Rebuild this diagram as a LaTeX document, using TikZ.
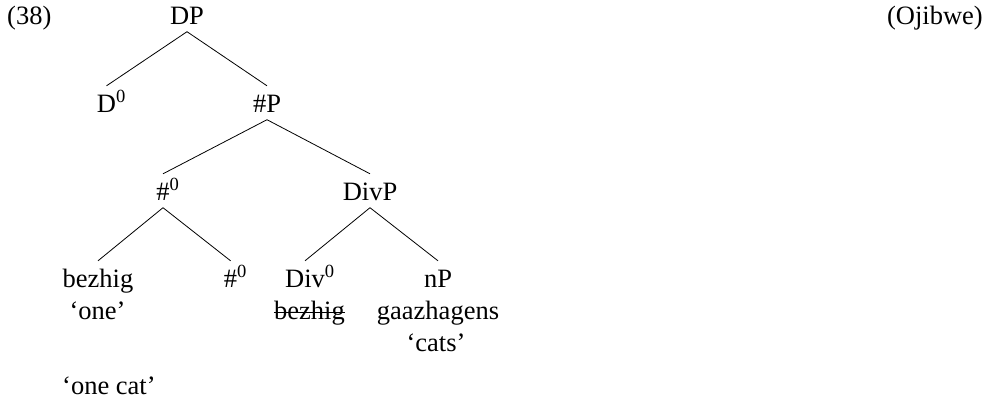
\documentclass[tikz,border=0pt]{standalone}
\usepackage{fontspec}
\setmainfont{Liberation Serif}
\tikzset{
  lbl/.style={font=\fontsize{26.5}{32}\selectfont, inner sep=0pt, anchor=base},
  tn/.style={lbl, text height=18.5pt, text depth=0pt, inner ysep=7.5pt},
  branch/.style={line width=0.8pt},
}
\newcommand{\supz}{\rlap{\textsuperscript{0}}}
\begin{document}
\begin{tikzpicture}[x=1pt,y=1pt]
\useasboundingbox (0,0) rectangle (992,-405);
% labels
\node[lbl, anchor=base west] (ex) at (7,-24) {(38)};
\node[lbl, anchor=base east] (lang) at (983,-24) {(Ojibwe)};
% tree nodes
\node[tn] (DP) at (187,-24) {DP};
\node[tn] (D0) at (106.5,-112) {D\supz};
\node[tn] (hP) at (267,-112) {\#P};
\node[tn] (h0) at (163,-200) {\#\supz};
\node[tn] (DivP) at (370,-200) {DivP};
\node[tn] (bez) at (98,-287) {bezhig};
\node[tn] (h0b) at (230.6,-287) {\#\supz};
\node[tn] (Div0) at (305,-287) {Div\supz};
\node[tn] (nP) at (438,-287) {nP};
% glosses
\node[lbl] (one) at (97.5,-319.5) {‘one’};
\node[lbl] (bezs) at (309.5,-319.5) {bezhig};
\node[lbl] (gaaz) at (438,-319.5) {gaazhagens};
\node[lbl] (cats) at (436,-351.5) {‘cats’};
\node[lbl, anchor=base west] (onecat) at (62,-394) {‘one cat’};
% strike-through
\draw[branch] ([yshift=7.5pt]bezs.base west) -- ([yshift=7.5pt]bezs.base east);
% branches
\draw[branch] (DP.south) -- (D0.north);
\draw[branch] (DP.south) -- (hP.north);
\draw[branch] (hP.south) -- (h0.north);
\draw[branch] (hP.south) -- (DivP.north);
\draw[branch] (h0.south) -- (bez.north);
\draw[branch] (h0.south) -- (h0b.north);
\draw[branch] (DivP.south) -- (Div0.north);
\draw[branch] (DivP.south) -- (nP.north);
\end{tikzpicture}
\end{document}
